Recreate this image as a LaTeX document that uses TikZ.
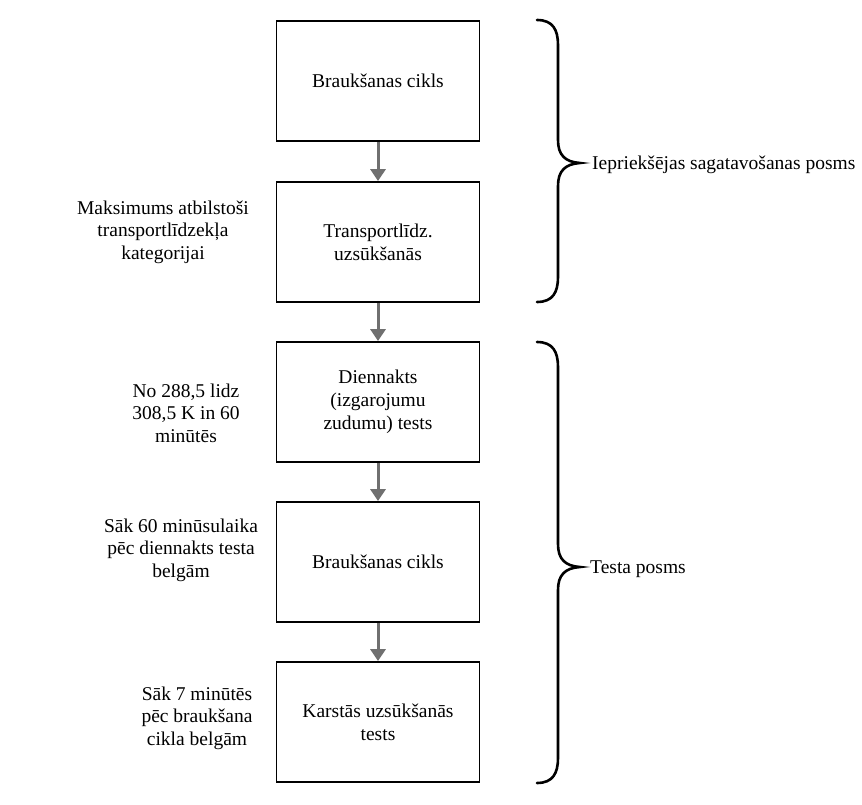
\documentclass[tikz,border=0pt]{standalone}
\usepackage{fontspec}
\setmainfont{Liberation Serif}
\usetikzlibrary{arrows.meta}
\definecolor{arrowgray}{HTML}{707070}
\tikzset{
  stepbox/.style={draw=black, line width=1.8pt, minimum width=203pt, minimum height=120pt, align=center, font=\fontsize{19.5}{23}\selectfont, inner sep=0pt},
  sidenote/.style={align=center, font=\fontsize{19.5}{22.5}\selectfont, inner sep=0pt},
  phase/.style={anchor=west, font=\fontsize{19.5}{23}\selectfont, inner sep=0pt},
  flow/.style={draw=arrowgray, line width=3pt, -{Triangle[width=15pt,length=12pt]}},
  bracestyle/.style={draw=black, line width=2.6pt, line cap=round}
}
\begin{document}
\begin{tikzpicture}[x=1pt,y=-1pt]
\useasboundingbox (0,0) rectangle (862,805);
\fill[white] (0,0) rectangle (862,805);

\node[stepbox] (b1) at (378,81) {Braukšanas cikls};
\node[stepbox] (b2) at (378,242) {Transportlīdz.\\uzsūkšanās};
\node[stepbox] (b3) at (378,402) {Diennakts\\(izgarojumu\\zudumu) tests};
\node[stepbox] (b4) at (378,562) {Braukšanas cikls};
\node[stepbox] (b5) at (378,722) {Karstās uzsūkšanās\\tests};

\draw[flow] (b1.south) -- (b2.north);
\draw[flow] (b2.south) -- (b3.north);
\draw[flow] (b3.south) -- (b4.north);
\draw[flow] (b4.south) -- (b5.north);

\node[sidenote] (n2) at (163,232) {Maksimums atbilstoši\\transportlīdzekļa\\kategorijai};
\node[sidenote] (n3) at (186,413) {No 288,5 lidz\\308,5 K in 60\\minūtēs};
\node[sidenote] (n4) at (181,550) {Sāk 60 minūsulaika\\pēc diennakts testa\\belgām};
\node[sidenote] (n5) at (197,718) {Sāk 7 minūtēs\\pēc braukšana\\cikla belgām};

\coordinate (t1) at (580,163);
\coordinate (t2) at (580,567);
\draw[bracestyle] (537,20) .. controls (553,20) and (558,30) .. (558,45) -- (558,140)
  .. controls (558,155) and (565,162) .. (t1)
  .. controls (565,164) and (558,171) .. (558,186) -- (558,277)
  .. controls (558,292) and (553,302) .. (537,302);
\draw[bracestyle] (537,342) .. controls (553,342) and (558,352) .. (558,367) -- (558,544)
  .. controls (558,559) and (565,566) .. (t2)
  .. controls (565,568) and (558,575) .. (558,590) -- (558,758)
  .. controls (558,773) and (553,783) .. (537,783);

\node[phase] (p1) at (592,165) {Iepriekšējas sagatavošanas posms};
\node[phase] (p2) at (590,569) {Testa posms};
\end{tikzpicture}
\end{document}
